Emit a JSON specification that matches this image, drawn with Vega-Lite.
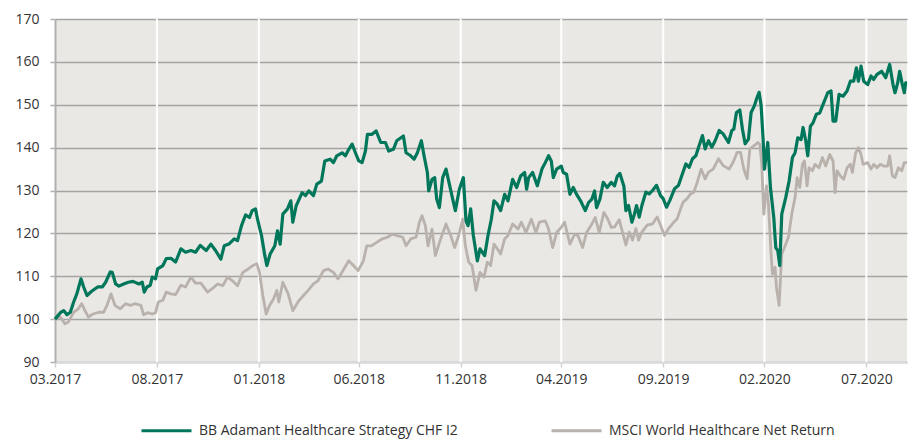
{
"$schema": "https://vega.github.io/schema/vega-lite/v6.json",
"width": 852, "height": 343,
"autosize": {"type": "none"},
"padding": {"left": 55, "top": 19, "right": 7, "bottom": 78},
"background": "white",
"config": {"font": "Open Sans", "view": {"fill": "#eae8e5", "stroke": null}},
"datasets": {
"ticks": [{"d":"2017-08-31"},{"d":"2018-01-31"},{"d":"2018-06-30"},{"d":"2018-11-30"},{"d":"2019-04-30"},{"d":"2019-09-30"},{"d":"2020-02-29"},{"d":"2020-07-31"}],
"fund": [
{"d":"2017-03-31","v":100},{"d":"2017-04-08","v":101.5},{"d":"2017-04-13","v":102},{"d":"2017-04-18","v":101},{"d":"2017-04-23","v":101.6},{"d":"2017-04-28","v":104},
{"d":"2017-05-03","v":106},{"d":"2017-05-09","v":109.4},{"d":"2017-05-13","v":107.5},{"d":"2017-05-18","v":105.5},{"d":"2017-05-25","v":106.5},
{"d":"2017-06-03","v":107.5},{"d":"2017-06-10","v":107.5},{"d":"2017-06-15","v":108.6},{"d":"2017-06-22","v":111},{"d":"2017-06-25","v":110.9},{"d":"2017-06-30","v":108.2},
{"d":"2017-07-05","v":107.7},{"d":"2017-07-12","v":108.2},{"d":"2017-07-19","v":108.6},{"d":"2017-07-26","v":108.8},
{"d":"2017-08-04","v":108.2},{"d":"2017-08-09","v":108.6},{"d":"2017-08-12","v":106.3},{"d":"2017-08-16","v":107.5},{"d":"2017-08-21","v":107.9},{"d":"2017-08-24","v":109.8},{"d":"2017-08-29","v":109.4},
{"d":"2017-09-01","v":111.7},{"d":"2017-09-09","v":112.5},{"d":"2017-09-14","v":114.1},{"d":"2017-09-21","v":114.2},{"d":"2017-09-28","v":113.3},
{"d":"2017-10-06","v":116.4},{"d":"2017-10-13","v":115.6},{"d":"2017-10-21","v":116},{"d":"2017-10-28","v":115.6},
{"d":"2017-11-04","v":117.2},{"d":"2017-11-13","v":116},{"d":"2017-11-20","v":117.5},{"d":"2017-11-27","v":116},
{"d":"2017-12-05","v":114},{"d":"2017-12-10","v":117.1},{"d":"2017-12-17","v":117.5},{"d":"2017-12-25","v":118.7},{"d":"2017-12-30","v":118.3},
{"d":"2018-01-05","v":121.8},{"d":"2018-01-11","v":124.3},{"d":"2018-01-17","v":123.7},{"d":"2018-01-21","v":125.3},{"d":"2018-01-26","v":125.7},{"d":"2018-01-29","v":123.3},
{"d":"2018-02-04","v":119.5},{"d":"2018-02-09","v":114.8},{"d":"2018-02-12","v":112.5},{"d":"2018-02-17","v":115.2},{"d":"2018-02-24","v":117.1},{"d":"2018-02-28","v":120.6},
{"d":"2018-03-04","v":117.5},{"d":"2018-03-08","v":124.5},{"d":"2018-03-15","v":125.7},{"d":"2018-03-20","v":127.6},{"d":"2018-03-23","v":122.6},{"d":"2018-03-28","v":126.4},
{"d":"2018-04-06","v":129.5},{"d":"2018-04-11","v":128.8},{"d":"2018-04-16","v":129.9},{"d":"2018-04-23","v":128.8},{"d":"2018-04-28","v":131.5},
{"d":"2018-05-05","v":132.2},{"d":"2018-05-10","v":136.9},{"d":"2018-05-18","v":137.3},{"d":"2018-05-23","v":136.5},{"d":"2018-05-28","v":138.1},
{"d":"2018-06-05","v":138.8},{"d":"2018-06-10","v":138.1},{"d":"2018-06-15","v":139.6},{"d":"2018-06-20","v":140.8},{"d":"2018-06-25","v":138.8},{"d":"2018-06-30","v":136.9},
{"d":"2018-07-05","v":136.5},{"d":"2018-07-10","v":139.2},{"d":"2018-07-13","v":143.1},{"d":"2018-07-20","v":143.1},{"d":"2018-07-26","v":143.9},
{"d":"2018-08-02","v":141.2},{"d":"2018-08-09","v":141.2},{"d":"2018-08-14","v":139.2},{"d":"2018-08-21","v":139.6},{"d":"2018-08-26","v":141.6},
{"d":"2018-09-05","v":142.7},{"d":"2018-09-09","v":138.8},{"d":"2018-09-16","v":138.1},{"d":"2018-09-21","v":137.3},{"d":"2018-09-26","v":138.8},
{"d":"2018-10-02","v":141.6},{"d":"2018-10-06","v":138.1},{"d":"2018-10-11","v":134.2},{"d":"2018-10-13","v":129.9},{"d":"2018-10-18","v":132.6},{"d":"2018-10-22","v":133},{"d":"2018-10-25","v":128},{"d":"2018-10-29","v":126},
{"d":"2018-11-03","v":133},{"d":"2018-11-08","v":135},{"d":"2018-11-13","v":131.5},{"d":"2018-11-18","v":128},{"d":"2018-11-22","v":125.3},{"d":"2018-11-28","v":130.3},
{"d":"2018-12-04","v":133},{"d":"2018-12-08","v":122.9},{"d":"2018-12-11","v":121.8},{"d":"2018-12-15","v":125.7},{"d":"2018-12-19","v":119.5},{"d":"2018-12-25","v":113.6},{"d":"2018-12-29","v":116.4},
{"d":"2019-01-05","v":114.8},{"d":"2019-01-10","v":119.5},{"d":"2019-01-15","v":123.3},{"d":"2019-01-19","v":127.6},{"d":"2019-01-24","v":126.8},{"d":"2019-01-29","v":125.3},
{"d":"2019-02-04","v":129.1},{"d":"2019-02-09","v":127.6},{"d":"2019-02-16","v":132.6},{"d":"2019-02-22","v":130.7},{"d":"2019-02-28","v":133.4},
{"d":"2019-03-06","v":134.2},{"d":"2019-03-09","v":130.3},{"d":"2019-03-12","v":133},{"d":"2019-03-18","v":134.2},{"d":"2019-03-25","v":131.1},
{"d":"2019-04-01","v":135},{"d":"2019-04-06","v":136.5},{"d":"2019-04-11","v":138.1},{"d":"2019-04-15","v":136.9},{"d":"2019-04-18","v":133},{"d":"2019-04-23","v":135},{"d":"2019-04-30","v":135.7},
{"d":"2019-05-03","v":134.2},{"d":"2019-05-08","v":133.8},{"d":"2019-05-13","v":129.1},{"d":"2019-05-18","v":130.7},{"d":"2019-05-23","v":129.1},{"d":"2019-05-29","v":127.6},
{"d":"2019-06-05","v":125.3},{"d":"2019-06-10","v":127.2},{"d":"2019-06-15","v":128},{"d":"2019-06-19","v":129.9},{"d":"2019-06-22","v":126},{"d":"2019-06-27","v":128},
{"d":"2019-07-02","v":131.9},{"d":"2019-07-08","v":130.7},{"d":"2019-07-14","v":131.9},{"d":"2019-07-19","v":131.1},{"d":"2019-07-23","v":133.3},{"d":"2019-07-27","v":134},
{"d":"2019-08-02","v":131},{"d":"2019-08-05","v":125.3},{"d":"2019-08-09","v":126.5},{"d":"2019-08-14","v":122.6},{"d":"2019-08-18","v":124.6},{"d":"2019-08-21","v":126.5},{"d":"2019-08-25","v":123.8},{"d":"2019-08-29","v":126.5},
{"d":"2019-09-04","v":129.6},{"d":"2019-09-09","v":129.2},{"d":"2019-09-14","v":130},{"d":"2019-09-20","v":131.2},{"d":"2019-09-26","v":128.8},{"d":"2019-09-30","v":128.1},
{"d":"2019-10-05","v":126.1},{"d":"2019-10-10","v":127.7},{"d":"2019-10-17","v":130.4},{"d":"2019-10-23","v":131.2},{"d":"2019-10-28","v":133.5},
{"d":"2019-11-03","v":136.2},{"d":"2019-11-08","v":135.4},{"d":"2019-11-13","v":137.4},{"d":"2019-11-18","v":138.1},{"d":"2019-11-23","v":140.5},{"d":"2019-11-28","v":142.8},
{"d":"2019-12-02","v":139.7},{"d":"2019-12-07","v":141.6},{"d":"2019-12-12","v":140.1},{"d":"2019-12-17","v":141.6},{"d":"2019-12-23","v":144},{"d":"2019-12-29","v":143.2},
{"d":"2020-01-06","v":141.2},{"d":"2020-01-11","v":144},{"d":"2020-01-14","v":144.3},{"d":"2020-01-18","v":148.2},{"d":"2020-01-23","v":148.8},{"d":"2020-01-27","v":144.3},{"d":"2020-01-31","v":140.9},
{"d":"2020-02-05","v":142},{"d":"2020-02-09","v":148.2},{"d":"2020-02-14","v":149.8},{"d":"2020-02-17","v":151.3},{"d":"2020-02-21","v":152.9},{"d":"2020-02-24","v":149.8},{"d":"2020-02-27","v":142},{"d":"2020-02-29","v":135},
{"d":"2020-03-03","v":138.8},{"d":"2020-03-05","v":141.2},{"d":"2020-03-09","v":130.7},{"d":"2020-03-14","v":123.7},{"d":"2020-03-17","v":116.7},{"d":"2020-03-20","v":116},{"d":"2020-03-23","v":112.5},{"d":"2020-03-26","v":124.5},
{"d":"2020-04-01","v":128.4},{"d":"2020-04-06","v":132.2},{"d":"2020-04-11","v":137.7},{"d":"2020-04-15","v":138.8},{"d":"2020-04-19","v":142.3},{"d":"2020-04-24","v":141.9},{"d":"2020-04-27","v":144.7},
{"d":"2020-05-01","v":141.6},{"d":"2020-05-04","v":138.1},{"d":"2020-05-08","v":145},{"d":"2020-05-12","v":145.8},{"d":"2020-05-17","v":147.8},{"d":"2020-05-22","v":148.1},{"d":"2020-05-27","v":150.1},
{"d":"2020-06-03","v":152.8},{"d":"2020-06-08","v":153.2},{"d":"2020-06-11","v":146.2},{"d":"2020-06-15","v":146.2},{"d":"2020-06-20","v":152.4},{"d":"2020-06-26","v":152},
{"d":"2020-07-02","v":153.2},{"d":"2020-07-07","v":155.5},{"d":"2020-07-12","v":155.5},{"d":"2020-07-16","v":158.6},{"d":"2020-07-19","v":155.5},{"d":"2020-07-23","v":159},{"d":"2020-07-27","v":155.5},
{"d":"2020-08-02","v":154.7},{"d":"2020-08-07","v":156.7},{"d":"2020-08-11","v":155.9},{"d":"2020-08-16","v":157.1},{"d":"2020-08-23","v":157.8},{"d":"2020-08-29","v":156.3},
{"d":"2020-09-04","v":159.4},{"d":"2020-09-09","v":154.7},{"d":"2020-09-12","v":152.8},{"d":"2020-09-16","v":155.1},{"d":"2020-09-19","v":157.8},{"d":"2020-09-23","v":154.7},{"d":"2020-09-26","v":152.8},{"d":"2020-09-28","v":155.1},{"d":"2020-09-30","v":155.1}
],
"index": [
{"d":"2017-03-31","v":100},{"d":"2017-04-08","v":100.5},{"d":"2017-04-15","v":98.9},{"d":"2017-04-20","v":99.3},{"d":"2017-04-28","v":101.6},
{"d":"2017-05-05","v":102.4},{"d":"2017-05-10","v":103.6},{"d":"2017-05-15","v":102},{"d":"2017-05-20","v":100.5},{"d":"2017-05-27","v":101.2},
{"d":"2017-06-05","v":101.6},{"d":"2017-06-12","v":101.6},{"d":"2017-06-17","v":103.2},{"d":"2017-06-23","v":105.9},{"d":"2017-06-29","v":103.2},
{"d":"2017-07-07","v":102.4},{"d":"2017-07-15","v":103.6},{"d":"2017-07-22","v":103.2},{"d":"2017-07-29","v":103.6},
{"d":"2017-08-07","v":103.2},{"d":"2017-08-11","v":101},{"d":"2017-08-17","v":101.5},{"d":"2017-08-24","v":101.2},{"d":"2017-08-29","v":101.5},
{"d":"2017-09-02","v":104},{"d":"2017-09-09","v":104.4},{"d":"2017-09-14","v":106.3},{"d":"2017-09-21","v":105.9},{"d":"2017-09-28","v":105.7},
{"d":"2017-10-06","v":107.9},{"d":"2017-10-13","v":107.5},{"d":"2017-10-21","v":109.8},{"d":"2017-10-28","v":108.4},
{"d":"2017-11-05","v":108.4},{"d":"2017-11-15","v":106.3},{"d":"2017-11-22","v":107.1},{"d":"2017-11-30","v":108.2},
{"d":"2017-12-08","v":107.8},{"d":"2017-12-15","v":109.8},{"d":"2017-12-22","v":109},{"d":"2017-12-30","v":107.8},
{"d":"2018-01-07","v":110.9},{"d":"2018-01-15","v":111.7},{"d":"2018-01-22","v":112.5},{"d":"2018-01-28","v":112.9},
{"d":"2018-02-01","v":110.9},{"d":"2018-02-06","v":105.5},{"d":"2018-02-11","v":101.2},{"d":"2018-02-16","v":103.2},{"d":"2018-02-22","v":104.7},{"d":"2018-02-27","v":106.7},
{"d":"2018-03-02","v":104},{"d":"2018-03-08","v":108.6},{"d":"2018-03-16","v":105.9},{"d":"2018-03-23","v":102},
{"d":"2018-04-01","v":104.3},{"d":"2018-04-08","v":105.5},{"d":"2018-04-15","v":106.7},{"d":"2018-04-23","v":108.2},{"d":"2018-04-30","v":109},
{"d":"2018-05-08","v":111.3},{"d":"2018-05-15","v":111.7},{"d":"2018-05-23","v":110.9},{"d":"2018-05-30","v":109.4},
{"d":"2018-06-07","v":111.5},{"d":"2018-06-15","v":113.6},{"d":"2018-06-22","v":112.5},{"d":"2018-06-29","v":111.3},
{"d":"2018-07-07","v":113.6},{"d":"2018-07-12","v":117.1},{"d":"2018-07-19","v":117.1},{"d":"2018-07-27","v":117.9},
{"d":"2018-08-04","v":118.7},{"d":"2018-08-12","v":119.1},{"d":"2018-08-19","v":119.8},{"d":"2018-08-26","v":119.5},
{"d":"2018-09-04","v":119.1},{"d":"2018-09-09","v":117.1},{"d":"2018-09-16","v":118.7},{"d":"2018-09-24","v":119.1},{"d":"2018-09-29","v":122.6},
{"d":"2018-10-03","v":124.1},{"d":"2018-10-08","v":121.8},{"d":"2018-10-12","v":117.1},{"d":"2018-10-18","v":121},{"d":"2018-10-23","v":114.8},{"d":"2018-10-30","v":118.3},
{"d":"2018-11-08","v":122.2},{"d":"2018-11-15","v":119.5},{"d":"2018-11-21","v":116.7},{"d":"2018-11-27","v":119.5},
{"d":"2018-12-03","v":123.3},{"d":"2018-12-07","v":117.1},{"d":"2018-12-12","v":113.3},{"d":"2018-12-17","v":112.5},{"d":"2018-12-23","v":106.7},{"d":"2018-12-29","v":110.9},
{"d":"2019-01-04","v":109.8},{"d":"2019-01-09","v":113.3},{"d":"2019-01-14","v":112.5},{"d":"2019-01-19","v":117.5},{"d":"2019-01-24","v":116.4},{"d":"2019-01-29","v":115.2},
{"d":"2019-02-04","v":118.7},{"d":"2019-02-09","v":119.5},{"d":"2019-02-16","v":122.2},{"d":"2019-02-24","v":121},
{"d":"2019-03-01","v":122.6},{"d":"2019-03-08","v":120.2},{"d":"2019-03-16","v":123.3},{"d":"2019-03-23","v":120.2},{"d":"2019-03-28","v":122.6},
{"d":"2019-04-06","v":122.9},{"d":"2019-04-11","v":121},{"d":"2019-04-17","v":116.7},{"d":"2019-04-23","v":120.2},{"d":"2019-04-30","v":121.4},
{"d":"2019-05-05","v":122.6},{"d":"2019-05-13","v":117.5},{"d":"2019-05-20","v":119.8},{"d":"2019-05-25","v":119.5},
{"d":"2019-06-01","v":116.7},{"d":"2019-06-07","v":120.2},{"d":"2019-06-15","v":122.2},{"d":"2019-06-20","v":123.7},{"d":"2019-06-26","v":120.2},
{"d":"2019-07-03","v":124.9},{"d":"2019-07-09","v":123.3},{"d":"2019-07-14","v":121.4},{"d":"2019-07-19","v":121.5},{"d":"2019-07-26","v":123.2},{"d":"2019-07-30","v":120.8},
{"d":"2019-08-05","v":117.3},{"d":"2019-08-10","v":120.3},{"d":"2019-08-15","v":118.4},{"d":"2019-08-20","v":121.1},{"d":"2019-08-24","v":118.4},{"d":"2019-08-29","v":120.3},
{"d":"2019-09-06","v":121.9},{"d":"2019-09-14","v":122.2},{"d":"2019-09-21","v":123.8},{"d":"2019-09-26","v":121.9},
{"d":"2019-10-02","v":119.5},{"d":"2019-10-08","v":121.1},{"d":"2019-10-16","v":122.6},{"d":"2019-10-21","v":123.4},{"d":"2019-10-26","v":125.7},{"d":"2019-10-30","v":127.3},
{"d":"2019-11-05","v":128.1},{"d":"2019-11-10","v":129.2},{"d":"2019-11-15","v":129.6},{"d":"2019-11-20","v":131.9},{"d":"2019-11-26","v":135},
{"d":"2019-12-02","v":132.7},{"d":"2019-12-07","v":134.3},{"d":"2019-12-14","v":135},{"d":"2019-12-22","v":137.4},{"d":"2019-12-29","v":135.8},
{"d":"2020-01-07","v":135},{"d":"2020-01-13","v":136.6},{"d":"2020-01-19","v":138.9},{"d":"2020-01-24","v":138.9},{"d":"2020-01-29","v":135},
{"d":"2020-02-03","v":132.7},{"d":"2020-02-07","v":139.7},{"d":"2020-02-14","v":140.5},{"d":"2020-02-19","v":141.2},{"d":"2020-02-22","v":140.8},{"d":"2020-02-25","v":136.1},{"d":"2020-02-28","v":124.5},
{"d":"2020-03-03","v":131.1},{"d":"2020-03-06","v":126.8},{"d":"2020-03-10","v":115.2},{"d":"2020-03-12","v":110.5},{"d":"2020-03-16","v":112.1},{"d":"2020-03-18","v":107.4},{"d":"2020-03-22","v":103.2},{"d":"2020-03-26","v":115.2},{"d":"2020-03-30","v":116.7},
{"d":"2020-04-05","v":119.1},{"d":"2020-04-10","v":124.5},{"d":"2020-04-15","v":128.4},{"d":"2020-04-18","v":133},{"d":"2020-04-22","v":130.7},{"d":"2020-04-26","v":136.1},{"d":"2020-04-29","v":136.9},
{"d":"2020-05-03","v":131.1},{"d":"2020-05-06","v":135.3},{"d":"2020-05-11","v":134.6},{"d":"2020-05-15","v":136.1},{"d":"2020-05-21","v":135.3},{"d":"2020-05-26","v":137.7},{"d":"2020-05-31","v":135.7},
{"d":"2020-06-06","v":138.4},{"d":"2020-06-11","v":136.9},{"d":"2020-06-14","v":129.5},{"d":"2020-06-17","v":134.6},{"d":"2020-06-22","v":133.4},{"d":"2020-06-27","v":132.6},
{"d":"2020-07-02","v":135.3},{"d":"2020-07-07","v":136.1},{"d":"2020-07-10","v":134.2},{"d":"2020-07-15","v":138.8},{"d":"2020-07-19","v":140},{"d":"2020-07-23","v":138.4},{"d":"2020-07-26","v":136.1},
{"d":"2020-08-02","v":136.5},{"d":"2020-08-07","v":135},{"d":"2020-08-11","v":136.1},{"d":"2020-08-16","v":135.3},{"d":"2020-08-21","v":136.1},{"d":"2020-08-26","v":135.7},
{"d":"2020-09-01","v":135.7},{"d":"2020-09-04","v":138.1},{"d":"2020-09-08","v":133.4},{"d":"2020-09-12","v":133},{"d":"2020-09-17","v":135.3},{"d":"2020-09-22","v":134.6},{"d":"2020-09-26","v":136.5},{"d":"2020-09-30","v":136.5}
]
},
"encoding": {
"x": {"field": "d", "type": "temporal", "title": null,
 "scale": {"type": "utc", "domain": [{"year": 2017, "month": 3, "date": 31, "utc": true}, {"year": 2020, "month": 9, "date": 30, "utc": true}]},
 "axis": {"values": [{"year":2017,"month":3,"date":31,"utc":true},{"year":2017,"month":8,"date":31,"utc":true},{"year":2018,"month":1,"date":31,"utc":true},{"year":2018,"month":6,"date":30,"utc":true},{"year":2018,"month":11,"date":30,"utc":true},{"year":2019,"month":4,"date":30,"utc":true},{"year":2019,"month":9,"date":30,"utc":true},{"year":2020,"month":2,"date":29,"utc":true},{"year":2020,"month":7,"date":31,"utc":true}],
  "format": "%m.%Y", "grid": false, "domainColor": "#dadada", "domainWidth": 2, "tickColor": "#d0d0d0", "tickSize": 5, "tickWidth": 1.5,
  "labelFontSize": 14, "labelColor": "#333333", "labelPadding": 5, "labelFlush": false, "labelOverlap": false}}
},
"layer": [
{"data": {"name": "ticks"}, "mark": {"type": "rule", "color": "white", "strokeWidth": 2}},
{"data": {"name": "index"}, "mark": {"type": "line", "strokeWidth": 2.8, "strokeJoin": "round"},
 "encoding": {
  "y": {"field": "v", "type": "quantitative", "title": null, "scale": {"domain": [90, 170], "zero": false, "nice": false},
   "axis": {"values": [90,100,110,120,130,140,150,160,170], "grid": true, "gridColor": "#a3a3a3", "gridWidth": 1.5, "domainColor": "#b0b0b0", "domainWidth": 2, "tickColor": "#b0b0b0", "tickSize": 5, "tickWidth": 1.5, "labelFontSize": 14, "labelColor": "#333333", "labelPadding": 11}},
  "color": {"datum": "MSCI World Healthcare Net Return", "type": "nominal",
   "scale": {"domain": ["BB Adamant Healthcare Strategy CHF I2", "MSCI World Healthcare Net Return"], "range": ["#00775a", "#b9b1ab"]},
   "legend": {"orient": "none", "legendX": 85, "legendY": 385, "direction": "horizontal", "title": null, "symbolType": "stroke", "symbolSize": 2500, "symbolStrokeWidth": 3, "labelFontSize": 14, "labelColor": "#333333", "labelLimit": 500, "columnPadding": 87, "labelOffset": 6}}
 }},
{"data": {"name": "fund"}, "mark": {"type": "line", "strokeWidth": 3.2, "strokeJoin": "round"},
 "encoding": {
  "y": {"field": "v", "type": "quantitative", "title": null, "scale": {"domain": [90, 170], "zero": false, "nice": false}},
  "color": {"datum": "BB Adamant Healthcare Strategy CHF I2", "type": "nominal"}
 }}
]
}
